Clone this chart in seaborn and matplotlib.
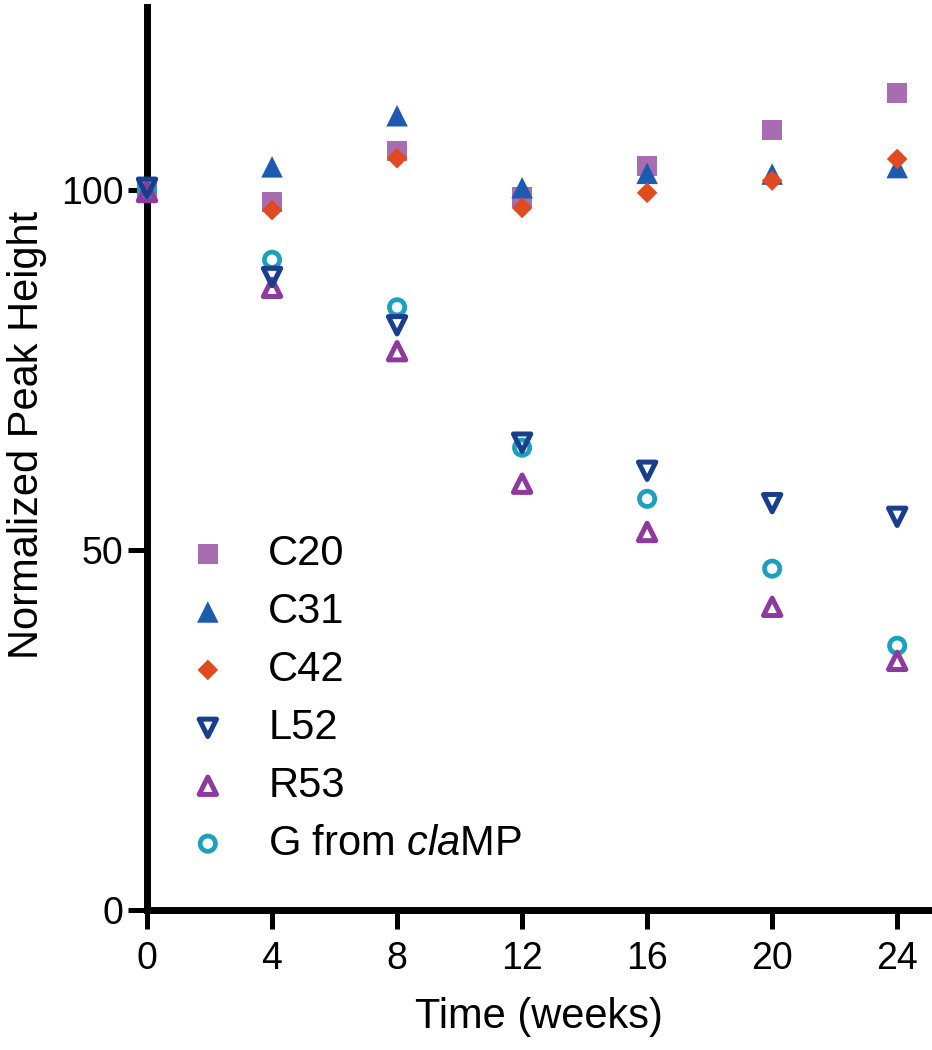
import matplotlib
matplotlib.use("Agg")
import matplotlib.pyplot as plt
import seaborn as sns
import pandas as pd

weeks = [0, 4, 8, 12, 16, 20, 24]
c20 = [100.0, 98.3, 105.4, 99.0, 103.3, 108.3, 113.5]
c31 = [100.0, 103.2, 110.3, 100.3, 102.3, 102.2, 103.1]
c42 = [100.0, 97.2, 104.4, 97.5, 99.6, 101.3, 104.3]
l52 = [100.3, 87.9, 81.2, 64.9, 61.0, 56.5, 54.6]
r53 = [99.7, 86.4, 77.6, 59.2, 52.5, 42.1, 34.6]
g_clamp = [100.0, 90.3, 83.7, 64.2, 57.1, 47.4, 36.7]

labels = ["C20", "C31", "C42", "L52", "R53", r"G from $\it{cla}$MP"]
xticks = [0, 4, 8, 12, 16, 20, 24]
yticks = [0, 50, 100]

sns.set_style("ticks")
plt.rcParams["font.family"] = ["Liberation Sans", "DejaVu Sans"]
plt.rcParams["mathtext.fontset"] = "custom"
plt.rcParams["mathtext.rm"] = "Liberation Sans"
plt.rcParams["mathtext.it"] = "Liberation Sans:italic"
plt.rcParams["text.color"] = "black"
plt.rcParams["axes.labelcolor"] = "black"
plt.rcParams["xtick.color"] = "black"
plt.rcParams["ytick.color"] = "black"

fig = plt.figure(figsize=(9.32, 10.5), dpi=100)
ax = fig.add_axes([147 / 932, 140 / 1050, (930 - 147) / 932, (910 - 7) / 1050])

series = [
    ("C20", c20, "s", "#A86CB2", True, 14.5, 0, 2),
    ("C31", c31, "^", "#1E5BB0", True, 15.5, 0, 3),
    ("C42", c42, "D", "#E04A1F", True, 10.5, 0, 4),
    ("L52", l52, "v", "#193F8C", False, 12.5, 3.6, 7),
    ("R53", r53, "^", "#8C3A9C", False, 12.5, 3.6, 6),
    (labels[5], g_clamp, "o", "#1BA0BF", False, 11.0, 3.4, 5),
]

for name, vals, mk, col, filled, ms, lw, z in series:
    df = pd.DataFrame({"week": weeks, "value": vals})
    if filled:
        sns.scatterplot(data=df, x="week", y="value", marker=mk, s=ms ** 2,
                        color=col, edgecolor="none", linewidth=0, ax=ax,
                        zorder=z, clip_on=False, label=name)
    else:
        sns.scatterplot(data=df, x="week", y="value", marker=mk, s=ms ** 2,
                        color=col, facecolor="none", edgecolor=col,
                        linewidth=lw, ax=ax, zorder=z, clip_on=False,
                        label=name)

ax.set_xlim(0, 25.05)
ax.set_ylim(0, 125.4)
ax.set_xticks(xticks)
ax.set_yticks(yticks)
ax.set_xticklabels([str(t) for t in xticks])
ax.set_yticklabels([str(t) for t in yticks])
ax.tick_params(axis="both", labelsize=27, length=14, width=3.6,
               color="black", labelcolor="black")
ax.tick_params(axis="x", pad=8)
ax.tick_params(axis="y", pad=3)
for side in ["top", "right"]:
    ax.spines[side].set_visible(False)
for side in ["left", "bottom"]:
    ax.spines[side].set_linewidth(5)
    ax.spines[side].set_color("black")
    ax.spines[side].set_capstyle("projecting")

ax.set_xlabel("Time (weeks)", fontsize=30, labelpad=15, color="black")
ax.set_ylabel("Normalized Peak Height", fontsize=30, color="black")
ax.yaxis.set_label_coords(-0.128, 0.526)

h, l = ax.get_legend_handles_labels()
order = ["C20", "C31", "C42", "L52", "R53", labels[5]]
hmap = dict(zip(l, h))
leg = ax.legend([hmap[o] for o in order], order, loc="upper left",
                bbox_to_anchor=(187 / 932, 1 - 534 / 1050),
                bbox_transform=fig.transFigure, frameon=False, fontsize=30,
                borderpad=0, borderaxespad=0, handlelength=1.0,
                handletextpad=0.95, labelspacing=0.43, markerscale=1.0)
for t in leg.get_texts():
    t.set_color("black")

fig.savefig("out.png", dpi=100)
